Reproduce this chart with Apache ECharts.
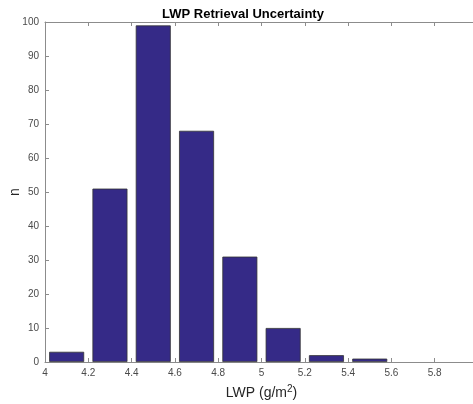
<!DOCTYPE html>
<html>
<head>
<meta charset="utf-8">
<script src="https://cdn.jsdelivr.net/npm/echarts@6/dist/echarts.min.js"></script>
<style>
  html, body { margin: 0; padding: 0; background: #fff; }
  #main { width: 473px; height: 404px; }
</style>
</head>
<body>
<div id="main"></div>
<script>
// histogram bins (centres) and counts
var binCentres = [4.1, 4.3, 4.5, 4.7, 4.9, 5.1, 5.3, 5.5];
var counts = [3, 51, 99, 68, 31, 10, 2, 1];
var xTicks = [4, 4.2, 4.4, 4.6, 4.8, 5, 5.2, 5.4, 5.6, 5.8];

var barData = binCentres.map(function (c, i) { return [c, counts[i]]; });

var axisGrey = '#8c8c8c';
var labelGrey = '#4a4a4a';
var font = 'Liberation Sans, Arial, sans-serif';

var myChart = echarts.init(document.getElementById('main'));
var option = {
    animation: false,
    title: {
        text: 'LWP Retrieval Uncertainty',
        left: 238,
        textAlign: 'center',
        top: 3,
        textStyle: { fontSize: 13, fontWeight: 'bold', color: '#000', fontFamily: font }
    },
    grid: { left: 45, top: 22, width: 433, height: 340, outerBoundsMode: 'none', containLabel: false },
    xAxis: [{
        type: 'value',
        min: 4,
        max: 6,
        interval: 0.2,
        name: 'LWP (g/m{sup|2})',
        nameLocation: 'middle',
        nameGap: 22,
        nameMoveOverlap: false,
        nameTextStyle: {
            fontSize: 14, color: '#262626', fontFamily: font,
            rich: { sup: { fontSize: 10, color: '#262626', fontFamily: font, verticalAlign: 'top', padding: [0, 0, 8, 0] } }
        },
        axisLine: { lineStyle: { color: axisGrey } },
        axisTick: { inside: true, length: 4, lineStyle: { color: axisGrey } },
        axisLabel: {
            color: labelGrey, fontSize: 10, fontFamily: font, margin: 6,
            formatter: function (v) { return xTicks.indexOf(Math.round(v * 10) / 10) >= 0 ? String(Math.round(v * 10) / 10) : ''; }
        },
        splitLine: { show: false }
    }, {
        type: 'value',
        position: 'top',
        min: 4,
        max: 6,
        interval: 0.2,
        axisLine: { lineStyle: { color: axisGrey } },
        axisTick: { inside: true, length: 4, lineStyle: { color: axisGrey } },
        axisLabel: { show: false },
        splitLine: { show: false }
    }],
    yAxis: {
        type: 'value',
        min: 0,
        max: 100,
        interval: 10,
        name: 'n',
        nameLocation: 'middle',
        nameGap: 23,
        nameMoveOverlap: false,
        nameTextStyle: { fontSize: 14, color: '#262626', fontFamily: font },
        axisLine: { show: true, lineStyle: { color: axisGrey } },
        axisTick: { show: true, inside: true, length: 4, lineStyle: { color: axisGrey } },
        axisLabel: { color: labelGrey, fontSize: 10, fontFamily: font, margin: 6 },
        splitLine: { show: false }
    },
    series: [{
        type: 'bar',
        data: barData,
        barWidth: 35,
        itemStyle: { color: '#352a87', borderColor: '#333333', borderWidth: 0.8 }
    }]
};
myChart.setOption(option);
</script>
</body>
</html>
